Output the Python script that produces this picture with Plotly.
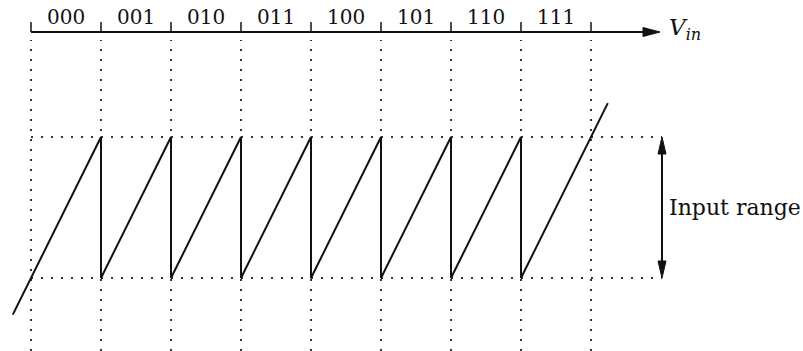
import plotly.graph_objects as go

# Output codes of a 3-bit quantizer and the input-voltage boundaries between them
codes = ["000", "001", "010", "011", "100", "101", "110", "111"]
code_edges = [0, 1, 2, 3, 4, 5, 6, 7, 8]

# Residue (input referred to the current code step) versus input voltage
saw_x = [-0.26, 1, 1, 2, 2, 3, 3, 4, 4, 5, 5, 6, 6, 7, 7, 8.24]
saw_y = [-0.26, 1, 0, 1, 0, 1, 0, 1, 0, 1, 0, 1, 0, 1, 0, 1.24]

# Limits of the input range
range_low, range_high = 0, 1

# Scale of the drawing (pixels per data unit) and layout constants
W, H = 803, 351
PX_X, PX_Y = 70.0, 141.0
x0_px, y0_px = 31.0, 278.0          # pixel position of the data origin
x_rng = [-x0_px / PX_X, (W - x0_px) / PX_X]
y_rng = [(y0_px - H) / PX_Y, y0_px / PX_Y]

def dx(px):
    return px / PX_X

def dy(px):
    return px / PX_Y

axis_y = dy(y0_px - 32)
tick_top = dy(y0_px - 22)
label_y = dy(y0_px - 17)
axis_end = dx(660 - x0_px)
grid_top = dy(y0_px - 40)
grid_right = dx(662 - x0_px)
text_x = dx(667 - x0_px)

FONT = "DejaVu Serif"
INK = "#111111"
DOT = "2px,8px"

fig = go.Figure()

# dotted vertical guides at every code boundary
for e in code_edges:
    fig.add_trace(go.Scatter(x=[e, e], y=[y_rng[0], grid_top], mode="lines",
                             line=dict(color="#333333", width=2, dash=DOT),
                             hoverinfo="skip", showlegend=False))

# dotted horizontal guides at the input range limits
for lvl in (range_low, range_high):
    fig.add_trace(go.Scatter(x=[code_edges[0], grid_right], y=[lvl, lvl], mode="lines",
                             line=dict(color="#333333", width=2, dash=DOT),
                             hoverinfo="skip", showlegend=False))

# sawtooth residue curve
fig.add_trace(go.Scatter(x=saw_x, y=saw_y, mode="lines",
                         line=dict(color=INK, width=2),
                         hoverinfo="skip", showlegend=False))

# V_in axis line with tick marks
fig.add_trace(go.Scatter(x=[code_edges[0], axis_end - dx(14)], y=[axis_y, axis_y], mode="lines",
                         line=dict(color=INK, width=2), hoverinfo="skip", showlegend=False))
for e in code_edges:
    fig.add_trace(go.Scatter(x=[e, e], y=[axis_y, tick_top], mode="lines",
                             line=dict(color=INK, width=1.5), hoverinfo="skip", showlegend=False))

# filled arrowheads
def head(tip_x, tip_y, direction, length, half):
    if direction == "right":
        xs = [tip_x, tip_x - dx(length), tip_x - dx(length), tip_x]
        ys = [tip_y, tip_y + dy(half), tip_y - dy(half), tip_y]
    elif direction == "up":
        xs = [tip_x, tip_x - dx(half), tip_x + dx(half), tip_x]
        ys = [tip_y, tip_y - dy(length), tip_y - dy(length), tip_y]
    else:
        xs = [tip_x, tip_x - dx(half), tip_x + dx(half), tip_x]
        ys = [tip_y, tip_y + dy(length), tip_y + dy(length), tip_y]
    fig.add_trace(go.Scatter(x=xs, y=ys, mode="lines", fill="toself", fillcolor=INK,
                             line=dict(color=INK, width=1), hoverinfo="skip", showlegend=False))

head(axis_end, axis_y, "right", 17, 4.5)

# double-headed arrow marking the input range
fig.add_trace(go.Scatter(x=[grid_right, grid_right], y=[range_low + dy(14), range_high - dy(14)],
                         mode="lines", line=dict(color=INK, width=2),
                         hoverinfo="skip", showlegend=False))
head(grid_right, range_high, "up", 17, 4)
head(grid_right, range_low, "down", 17, 4)

# code labels between the boundaries
for i, c in enumerate(codes):
    fig.add_annotation(x=(code_edges[i] + code_edges[i + 1]) / 2, y=label_y, text=c,
                       showarrow=False, xanchor="center", yanchor="middle",
                       font=dict(family=FONT, size=20, color=INK))

fig.add_annotation(x=text_x, y=axis_y + dy(3), text="<i>V</i><sub><i>in</i></sub>",
                   showarrow=False, xanchor="left", yanchor="middle",
                   font=dict(family=FONT, size=23, color=INK))

fig.add_annotation(x=text_x, y=(range_low + range_high) / 2, text="Input range",
                   showarrow=False, xanchor="left", yanchor="middle",
                   font=dict(family=FONT, size=22, color=INK))

fig.update_layout(
    width=W, height=H,
    margin=dict(l=0, r=0, t=0, b=0),
    paper_bgcolor="white", plot_bgcolor="white",
    xaxis=dict(range=x_rng, visible=False, fixedrange=True),
    yaxis=dict(range=y_rng, visible=False, fixedrange=True),
)

fig.write_html("out.html")
